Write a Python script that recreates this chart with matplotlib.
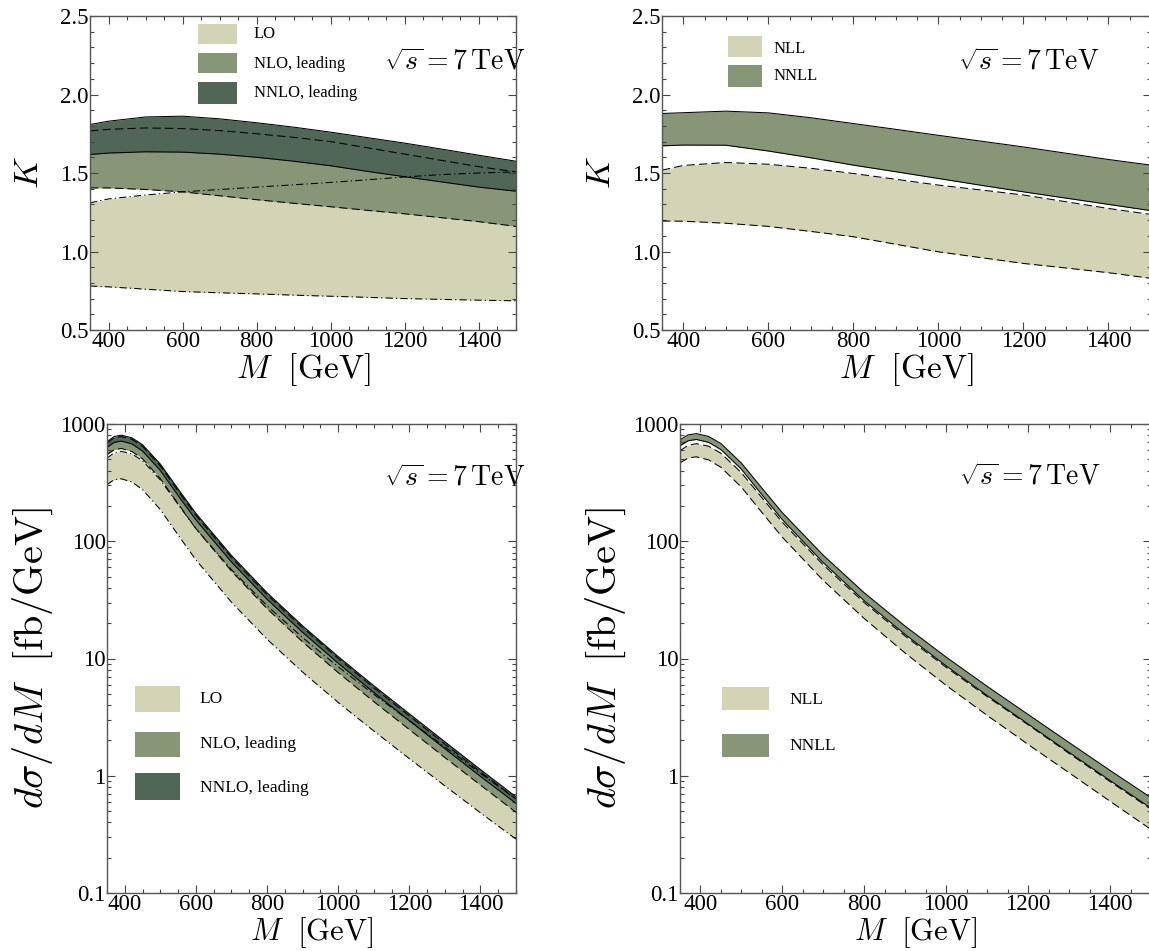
import matplotlib
matplotlib.use("Agg")
import matplotlib.pyplot as plt
from matplotlib.patches import Rectangle
from matplotlib.ticker import MultipleLocator, FixedLocator, LogLocator, NullFormatter, FixedFormatter

plt.rcParams['font.family'] = ['Liberation Serif', 'DejaVu Serif']
plt.rcParams['mathtext.fontset'] = 'cm'

# ---------------- data: K factors (top panels) ----------------
M_K = [350, 400, 500, 600, 700, 800, 900, 1000, 1100, 1200, 1300, 1400, 1500]

K_LO_lo   = [0.78, 0.775, 0.76, 0.745, 0.737, 0.73, 0.722, 0.715, 0.708, 0.70, 0.695, 0.69, 0.686]
K_LO_hi   = [1.31, 1.335, 1.36, 1.38, 1.395, 1.41, 1.425, 1.44, 1.457, 1.475, 1.49, 1.50, 1.507]
K_NLO_lo  = [1.405, 1.405, 1.395, 1.38, 1.355, 1.33, 1.307, 1.285, 1.262, 1.24, 1.215, 1.19, 1.16]
K_NLO_hi  = [1.768, 1.778, 1.787, 1.783, 1.77, 1.75, 1.727, 1.70, 1.66, 1.62, 1.58, 1.54, 1.507]
K_NNLO_lo = [1.618, 1.627, 1.635, 1.633, 1.62, 1.60, 1.575, 1.546, 1.51, 1.476, 1.443, 1.41, 1.384]
K_NNLO_hi = [1.809, 1.83, 1.857, 1.862, 1.845, 1.82, 1.792, 1.76, 1.725, 1.69, 1.652, 1.613, 1.575]

K_NLL_lo  = [1.194, 1.193, 1.18, 1.16, 1.128, 1.094, 1.046, 0.998, 0.961, 0.924, 0.895, 0.865, 0.829]
K_NLL_hi  = [1.518, 1.548, 1.567, 1.556, 1.53, 1.497, 1.46, 1.423, 1.392, 1.36, 1.317, 1.274, 1.236]
K_NNLL_lo = [1.673, 1.678, 1.677, 1.64, 1.597, 1.55, 1.508, 1.465, 1.422, 1.38, 1.34, 1.30, 1.26]
K_NNLL_hi = [1.879, 1.884, 1.894, 1.883, 1.852, 1.815, 1.778, 1.74, 1.703, 1.666, 1.626, 1.586, 1.55]

# ---------------- data: dsigma/dM in fb/GeV (bottom panels) ----------------
M_X = [350, 370, 390, 420, 450, 500, 550, 600, 700, 800, 900, 1000, 1100, 1200, 1300, 1400, 1500]

X_LO_lo   = [304, 335, 341, 320, 276, 186, 113, 69.3, 30.2, 14.6, 7.65, 4.22, 2.41, 1.40, 0.82, 0.483, 0.288]
X_LO_hi   = [511, 568, 585, 556, 486, 333, 206, 128, 57.2, 28.2, 15.1, 8.5, 4.95, 2.95, 1.76, 1.05, 0.633]
X_NLO_lo  = [548, 604, 618, 582, 504, 342, 208.5, 128.3, 55.6, 26.6, 13.85, 7.58, 4.29, 2.48, 1.43, 0.833, 0.487]
X_NLO_hi  = [690, 762, 782, 740, 643, 438, 268, 166, 72.6, 35.0, 18.3, 10.03, 5.64, 3.24, 1.864, 1.078, 0.633]
X_NNLO_lo = [631, 697, 715, 676, 588, 401, 245, 152, 66.4, 32.0, 16.7, 9.12, 5.13, 2.95, 1.70, 0.987, 0.581]
X_NNLO_hi = [706, 782, 803, 763, 665, 455, 279, 173, 75.6, 36.4, 19.0, 10.4, 5.87, 3.38, 1.95, 1.13, 0.662]

X_NLL_lo  = [466, 513, 525, 494, 427, 289, 176, 108, 46.2, 21.9, 11.1, 5.89, 3.27, 1.85, 1.06, 0.606, 0.348]
X_NLL_hi  = [592, 658, 680, 646, 563, 384, 235, 145, 62.7, 29.9, 15.5, 8.40, 4.73, 2.72, 1.55, 0.892, 0.519]
X_NNLL_lo = [652, 720, 738, 697, 605, 411, 249, 152.5, 65.5, 31.0, 16.0, 8.64, 4.83, 2.76, 1.58, 0.91, 0.529]
X_NNLL_hi = [733, 808, 828, 783, 681, 464, 284, 175, 75.9, 36.3, 18.85, 10.27, 5.79, 3.33, 1.92, 1.11, 0.651]

x_ticks = [400, 600, 800, 1000, 1200, 1400]
k_ticks = [0.5, 1.0, 1.5, 2.0, 2.5]
k_tick_labels = ['0.5', '1.0', '1.5', '2.0', '2.5']
log_ticks = [0.1, 1, 10, 100, 1000]
log_tick_labels = ['0.1', '1', '10', '100', '1000']

C_LIGHT = '#d3d4b6'
C_MED = '#879676'
C_DARK = '#506657'

W, H = 1149, 951
fig = plt.figure(figsize=(W / 100, H / 100), dpi=100)


def ax_at(l, r, t, b):
    return fig.add_axes([l / W, 1 - b / H, (r - l) / W, (b - t) / H])


def style(ax, log=False, xlabelpad=0, xlabelsize=24):
    ax.set_xlim(350, 1500)
    ax.xaxis.set_major_locator(FixedLocator(x_ticks))
    ax.xaxis.set_minor_locator(MultipleLocator(50))
    if log:
        ax.set_yscale('log')
        ax.set_ylim(0.1, 1000)
        ax.yaxis.set_major_locator(FixedLocator(log_ticks))
        ax.yaxis.set_major_formatter(FixedFormatter(log_tick_labels))
        ax.yaxis.set_minor_locator(LogLocator(base=10, subs=range(2, 10), numticks=20))
        ax.yaxis.set_minor_formatter(NullFormatter())
    else:
        ax.set_ylim(0.5, 2.5)
        ax.yaxis.set_major_locator(FixedLocator(k_ticks))
        ax.yaxis.set_major_formatter(FixedFormatter(k_tick_labels))
        ax.yaxis.set_minor_locator(MultipleLocator(0.1))
    ax.tick_params(which='both', direction='in', top=True, right=True, labelsize=16.5,
                   color='#444444', width=0.8, pad=1)
    ax.tick_params(which='major', length=6)
    ax.tick_params(which='minor', length=3)
    for s in ax.spines.values():
        s.set_color('#555555')
        s.set_linewidth(1.0)
    ax.set_xlabel(r'$M\ \ [\mathrm{GeV}]$', fontsize=xlabelsize, labelpad=xlabelpad)


def band(ax, x, lo, hi, color):
    ax.fill_between(x, lo, hi, color=color, lw=0)


def edges(ax, x, lo, hi, ls):
    ax.plot(x, lo, color='black', lw=0.75, ls=ls)
    ax.plot(x, hi, color='black', lw=0.75, ls=ls)


def legend_box(ax, entries, px0, px1, tx, fs):
    for (y0, y1, color, label, ty) in entries:
        ax.add_patch(Rectangle((px0, y0), px1 - px0, y1 - y0, transform=ax.transAxes,
                               color=color, lw=0, zorder=5))
        ax.text(tx, ty, label, transform=ax.transAxes, fontsize=fs, va='center', ha='left',
                zorder=5)


DASH = (0, (8, 4))
DASHDOT = (0, (7, 3, 1.2, 3))
SQRTS = r'$\sqrt{s}=7\,\mathrm{TeV}$'

# ---- top-left ----
ax1 = ax_at(90, 516, 16, 330)
band(ax1, M_K, K_LO_lo, K_LO_hi, C_LIGHT)
band(ax1, M_K, K_NLO_lo, K_NLO_hi, C_MED)
band(ax1, M_K, K_NNLO_lo, K_NNLO_hi, C_DARK)
edges(ax1, M_K, K_LO_lo, K_LO_hi, DASHDOT)
edges(ax1, M_K, K_NLO_lo, K_NLO_hi, DASH)
edges(ax1, M_K, K_NNLO_lo, K_NNLO_hi, '-')
style(ax1, xlabelpad=-1)
ax1.set_ylabel(r'$K$', fontsize=25, labelpad=10)
legend_box(ax1, [(0.912, 0.976, C_LIGHT, 'LO', 0.944),
                 (0.817, 0.883, C_MED, 'NLO, leading', 0.848),
                 (0.721, 0.790, C_DARK, 'NNLO, leading', 0.755)],
           0.254, 0.345, 0.385, 12)
ax1.text(0.857, 0.852, SQRTS, transform=ax1.transAxes,
         fontsize=20, ha='center', va='center')

# ---- top-right ----
ax2 = ax_at(662, 1151, 16, 330)
band(ax2, M_K, K_NLL_lo, K_NLL_hi, C_LIGHT)
band(ax2, M_K, K_NNLL_lo, K_NNLL_hi, C_MED)
edges(ax2, M_K, K_NLL_lo, K_NLL_hi, DASH)
edges(ax2, M_K, K_NNLL_lo, K_NNLL_hi, '-')
style(ax2, xlabelpad=-1)
ax2.set_ylabel(r'$K$', fontsize=25, labelpad=10)
legend_box(ax2, [(0.870, 0.935, C_LIGHT, 'NLL', 0.896),
                 (0.774, 0.843, C_MED, 'NNLL', 0.808)],
           0.134, 0.204, 0.229, 12)
ax2.text(0.75, 0.852, SQRTS, transform=ax2.transAxes,
         fontsize=20, ha='center', va='center')

# ---- bottom-left ----
ax3 = ax_at(107, 516, 424, 893)
band(ax3, M_X, X_LO_lo, X_LO_hi, C_LIGHT)
band(ax3, M_X, X_NLO_lo, X_NLO_hi, C_MED)
band(ax3, M_X, X_NNLO_lo, X_NNLO_hi, C_DARK)
edges(ax3, M_X, X_LO_lo, X_LO_hi, DASHDOT)
edges(ax3, M_X, X_NLO_lo, X_NLO_hi, DASH)
edges(ax3, M_X, X_NNLO_lo, X_NNLO_hi, '-')
style(ax3, log=True, xlabelpad=0, xlabelsize=22)
ax3.set_ylabel(r'$d\sigma/dM\ \ [\mathrm{fb/GeV}]$', fontsize=29, labelpad=4)
legend_box(ax3, [(0.385, 0.442, C_LIGHT, 'LO', 0.413),
                 (0.289, 0.344, C_MED, 'NLO, leading', 0.318),
                 (0.198, 0.256, C_DARK, 'NNLO, leading', 0.224)],
           0.068, 0.178, 0.227, 12.5)
ax3.text(0.851, 0.885, SQRTS, transform=ax3.transAxes,
         fontsize=20, ha='center', va='center')

# ---- bottom-right ----
ax4 = ax_at(680, 1151, 424, 893)
band(ax4, M_X, X_NLL_lo, X_NLL_hi, C_LIGHT)
band(ax4, M_X, X_NNLL_lo, X_NNLL_hi, C_MED)
edges(ax4, M_X, X_NLL_lo, X_NLL_hi, DASH)
edges(ax4, M_X, X_NNLL_lo, X_NNLL_hi, '-')
style(ax4, log=True, xlabelpad=0, xlabelsize=22)
ax4.set_ylabel(r'$d\sigma/dM\ \ [\mathrm{fb/GeV}]$', fontsize=29, labelpad=4)
legend_box(ax4, [(0.391, 0.440, C_LIGHT, 'NLL', 0.412),
                 (0.290, 0.340, C_MED, 'NNLL', 0.3125)],
           0.09, 0.19, 0.232, 12.5)
ax4.text(0.742, 0.887, SQRTS, transform=ax4.transAxes,
         fontsize=20, ha='center', va='center')

fig.savefig('out.png', dpi=100)
